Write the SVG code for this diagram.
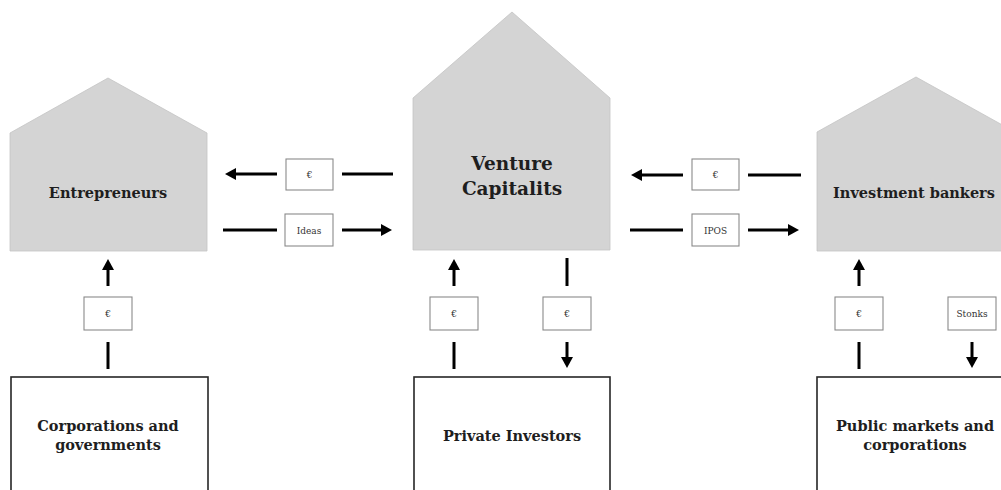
<svg xmlns="http://www.w3.org/2000/svg" width="1001" height="490" viewBox="0 0 1001 490">
<defs>
<style>
.house{fill:#d4d4d4;stroke:#c4c4c4;stroke-width:0.8}
.box{fill:#fff;stroke:#262626;stroke-width:1.6}
.lbl{fill:#fff;stroke:#8a8a8a;stroke-width:1.1}
.ln{stroke:#000;stroke-width:3;fill:none}
.t{font-family:"DejaVu Serif","Liberation Serif",serif;font-weight:bold;fill:#1e1e1e;text-anchor:middle}
.s{font-family:"DejaVu Serif","Liberation Serif",serif;font-size:9px;fill:#333;text-anchor:middle}
</style>
<marker id="ah" viewBox="0 0 11 12" refX="1" refY="6" markerWidth="11" markerHeight="12" markerUnits="userSpaceOnUse" orient="auto">
<path d="M0,0 L11,6 L0,12 Z" fill="#000"/>
</marker>
</defs>
<rect width="1001" height="490" fill="#fff"/>

<g id="entrepreneurs">
<polygon class="house" points="10,133 108,78 207,133 207,251 10,251"/>
<text class="t" x="108" y="198" font-size="14.5">Entrepreneurs</text>
</g>
<g id="venture-capitalists">
<polygon class="house" points="413,98 512,12 610,98 610,250 413,250"/>
<text class="t" x="512" y="170" font-size="18.5">Venture</text>
<text class="t" x="512" y="195" font-size="18.5">Capitalits</text>
</g>
<g id="investment-bankers">
<polygon class="house" points="817,132 916,77 1015,132 1015,251 817,251"/>
<text class="t" x="914" y="198" font-size="14.5">Investment bankers</text>
</g>
<g id="corporations-governments">
<rect class="box" x="11" y="377" width="197" height="130"/>
<text class="t" x="108" y="431" font-size="14.5">Corporations and</text>
<text class="t" x="108" y="450" font-size="14.5">governments</text>
</g>
<g id="private-investors">
<rect class="box" x="414" y="377" width="196" height="130"/>
<text class="t" x="512" y="441" font-size="14.5">Private Investors</text>
</g>
<g id="public-markets">
<rect class="box" x="817" y="377" width="200" height="130"/>
<text class="t" x="915" y="431" font-size="14.5">Public markets and</text>
<text class="t" x="915" y="450" font-size="14.5">corporations</text>
</g>

<g id="connectors">
<!-- VC -> Entrepreneurs: € -->
<line class="ln" x1="393" y1="174" x2="342" y2="174"/>
<rect class="lbl" x="286" y="159" width="47" height="31"/>
<text class="s" x="309.5" y="178">€</text>
<line class="ln" x1="277" y1="174" x2="235" y2="174" marker-end="url(#ah)"/>
<!-- Entrepreneurs -> VC: Ideas -->
<line class="ln" x1="223" y1="230" x2="277" y2="230"/>
<rect class="lbl" x="285" y="214" width="48" height="32"/>
<text class="s" x="309" y="233.5">Ideas</text>
<line class="ln" x1="342" y1="230" x2="382" y2="230" marker-end="url(#ah)"/>
<!-- IB -> VC: € -->
<line class="ln" x1="801" y1="175" x2="748" y2="175"/>
<rect class="lbl" x="692" y="159" width="47" height="31"/>
<text class="s" x="715.5" y="178">€</text>
<line class="ln" x1="683" y1="175" x2="641" y2="175" marker-end="url(#ah)"/>
<!-- VC -> IB: IPOS -->
<line class="ln" x1="630" y1="230" x2="683" y2="230"/>
<rect class="lbl" x="692" y="214" width="47" height="32"/>
<text class="s" x="715.5" y="233.5">IPOS</text>
<line class="ln" x1="748" y1="230" x2="789" y2="230" marker-end="url(#ah)"/>

<!-- Corporations -> Entrepreneurs: € -->
<line class="ln" x1="108" y1="369" x2="108" y2="342"/>
<rect class="lbl" x="84" y="297" width="48" height="33"/>
<text class="s" x="108" y="317">€</text>
<line class="ln" x1="108" y1="286" x2="108" y2="269" marker-end="url(#ah)"/>
<!-- Private -> VC: € -->
<line class="ln" x1="454" y1="369" x2="454" y2="342"/>
<rect class="lbl" x="430" y="297" width="48" height="33"/>
<text class="s" x="454" y="317">€</text>
<line class="ln" x1="454" y1="286" x2="454" y2="269" marker-end="url(#ah)"/>
<!-- VC -> Private: € -->
<line class="ln" x1="567" y1="258" x2="567" y2="286"/>
<rect class="lbl" x="543" y="297" width="48" height="33"/>
<text class="s" x="567" y="317">€</text>
<line class="ln" x1="567" y1="342" x2="567" y2="358" marker-end="url(#ah)"/>
<!-- Public -> IB: € -->
<line class="ln" x1="859" y1="369" x2="859" y2="342"/>
<rect class="lbl" x="835" y="297" width="48" height="33"/>
<text class="s" x="859" y="317">€</text>
<line class="ln" x1="859" y1="286" x2="859" y2="269" marker-end="url(#ah)"/>
<!-- IB -> Public: Stonks -->
<rect class="lbl" x="948" y="297" width="48" height="33"/>
<text class="s" x="972" y="317">Stonks</text>
<line class="ln" x1="972" y1="342" x2="972" y2="358" marker-end="url(#ah)"/>
</g>
</svg>
